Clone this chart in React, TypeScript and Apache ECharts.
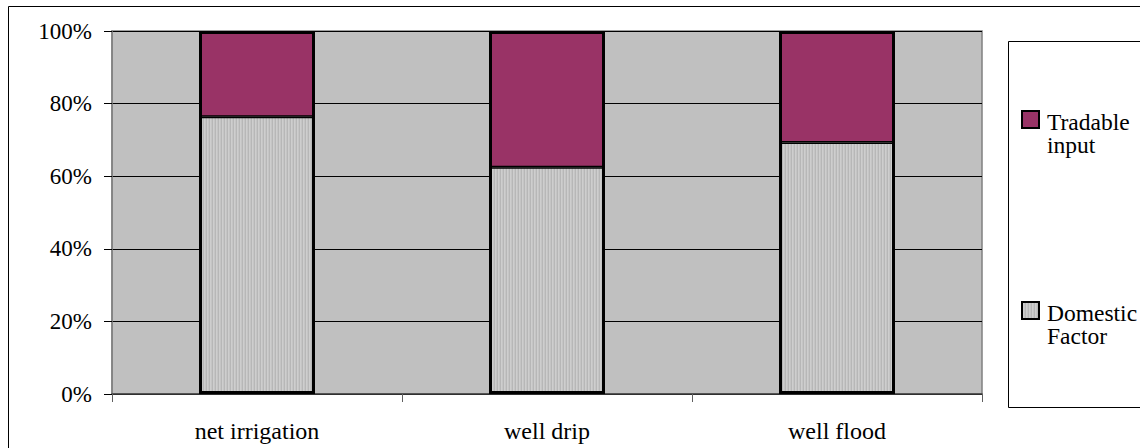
import React, { useEffect, useRef } from "react";
import * as echarts from "echarts";

const categories = ["net irrigation", "well drip", "well flood"];
const domesticFactor = [76.4, 62.5, 69.3];
const tradableInput = [23.6, 37.5, 30.7];
const seriesNames = ["Tradable input", "Domestic Factor"];
const legendLabels = ["Tradable\ninput", "Domestic\nFactor"];

const FONT = "Liberation Serif";
const PURPLE = "#993366";

function makeStripe(): string {
  const c = document.createElement("canvas");
  c.width = 3;
  c.height = 4;
  const ctx = c.getContext("2d")!;
  const cols = ["#cecece", "#c5c5c5", "#b7b7b7"];
  cols.forEach((col, i) => {
    ctx.fillStyle = col;
    ctx.fillRect(i, 0, 1, 4);
  });
  return c.toDataURL();
}

export default function App() {
  const ref = useRef<HTMLDivElement>(null);
  useEffect(() => {
    if (!ref.current) return;
    const chart = echarts.init(ref.current, undefined, { renderer: "svg" });
    const stripe = makeStripe();
    const pattern: any = { image: stripe, repeat: "repeat", imageWidth: 3, imageHeight: 4 };
    const totals = domesticFactor.map((d, i) => d + tradableInput[i]);

    const legendItem = (idx: number, top: number, fill: any) => [
      {
        type: "rect",
        shape: { x: 1022, y: top, width: 17, height: 17 },
        style: { fill, stroke: "#000", lineWidth: 2 },
      },
      {
        type: "text",
        x: 1047,
        y: top - 1,
        style: {
          text: legendLabels[idx],
          fontFamily: FONT,
          fontSize: 23.5,
          lineHeight: 23.5,
          fill: "#000",
          verticalAlign: "top",
          align: "left",
        },
      },
    ];

    chart.setOption({
      animation: false,
      backgroundColor: "#fff",
      textStyle: { fontFamily: FONT },
      grid: {
        left: 112,
        top: 31,
        right: 158,
        bottom: 54,
        show: true,
        backgroundColor: "#c0c0c0",
        borderColor: "#808080",
        borderWidth: 1.5,
      },
      xAxis: {
        type: "category",
        data: categories,
        boundaryGap: true,
        axisLine: { show: true, lineStyle: { color: "#404040", width: 1.5 } },
        axisTick: { show: true, length: 8, lineStyle: { color: "#606060", width: 1 } },
        axisLabel: {
          color: "#000",
          fontFamily: FONT,
          fontSize: 24,
          margin: 25,
        },
        splitLine: { show: false },
      },
      yAxis: {
        type: "value",
        min: 0,
        max: 100,
        interval: 20,
        axisLine: { show: true, lineStyle: { color: "#808080", width: 1.5 } },
        axisTick: { show: true, length: 8, lineStyle: { color: "#000", width: 1 } },
        axisLabel: {
          formatter: "{value}%",
          color: "#000",
          fontFamily: FONT,
          fontSize: 23,
          margin: 20,
        },
        splitLine: { show: true, lineStyle: { color: "#000", width: 1 } },
      },
      series: [
        {
          name: seriesNames[1],
          type: "bar",
          stack: "total",
          barWidth: "40%",
          data: domesticFactor,
          itemStyle: { color: pattern, borderColor: "#000", borderWidth: 1.5 },
        },
        {
          name: seriesNames[0],
          type: "bar",
          stack: "total",
          barWidth: "40%",
          data: tradableInput,
          itemStyle: { color: PURPLE, borderColor: "#000", borderWidth: 1.5 },
        },
        {
          name: "outline",
          type: "bar",
          barWidth: "40%",
          barGap: "-100%",
          z: 5,
          silent: true,
          data: totals,
          itemStyle: { color: "rgba(0,0,0,0)", borderColor: "#000", borderWidth: 3 },
        },
      ],
      graphic: [
        {
          type: "rect",
          silent: true,
          shape: { x: 8.5, y: 6.5, width: 1200, height: 500 },
          style: { fill: "none", stroke: "#000", lineWidth: 1 },
        },
        {
          type: "rect",
          silent: true,
          shape: { x: 1008.5, y: 41.5, width: 200, height: 366 },
          style: { fill: "#fff", stroke: "#000", lineWidth: 1 },
        },
        ...legendItem(0, 111, PURPLE),
        ...legendItem(1, 302, pattern),
      ],
    });
    return () => chart.dispose();
  }, []);
  return (
    <div
      ref={ref}
      style={{ position: "fixed", left: 0, top: 0, width: 1140, height: 448, background: "#fff" }}
    />
  );
}
